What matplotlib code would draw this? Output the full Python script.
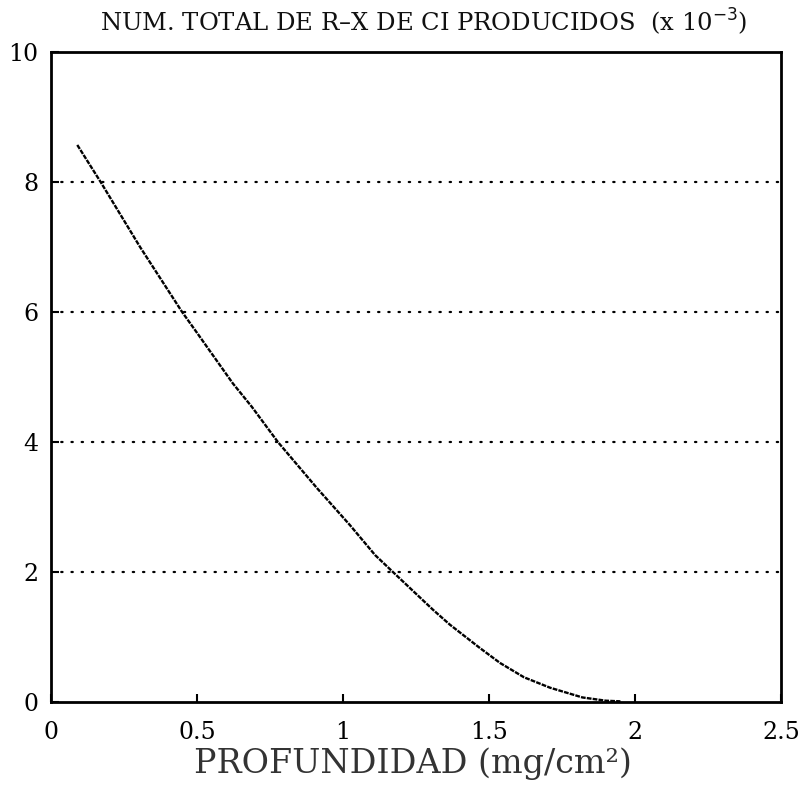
import numpy as np
import matplotlib.pyplot as plt

# profundidad (mg/cm2) vs numero total de rayos X producidos (x 10^-3)
prof = [0.09, 0.17, 0.305, 0.449, 0.50, 0.623, 0.688, 0.777, 0.911, 1.024,
        1.11, 1.171, 1.308, 1.366, 1.469, 1.538, 1.62, 1.709, 1.82, 1.90, 1.95]
num_rx = [8.57, 8.0, 7.0, 6.0, 5.68, 4.9, 4.54, 4.0, 3.29, 2.72,
          2.26, 2.0, 1.42, 1.19, 0.83, 0.6, 0.38, 0.22, 0.07, 0.02, 0.01]

xticks = [0, 0.5, 1, 1.5, 2, 2.5]
xlabels = ['0', '0.5', '1', '1.5', '2', '2.5']
yticks = [0, 2, 4, 6, 8, 10]
ylabels = ['0', '2', '4', '6', '8', '10']
grid_y = [2, 4, 6, 8]

plt.rcParams['font.family'] = ['DejaVu Serif', 'DejaVu Sans']

fig = plt.figure(figsize=(8.07, 7.91), dpi=100)
ax = fig.add_axes([51/807, 1-702/791, 730/807, 650/791])

for g in grid_y:
    ax.axhline(g, color='black', lw=1.6, linestyle=(0, (0.6, 4)),
               dash_capstyle='round', zorder=1)

ax.plot(prof, num_rx, color='black', lw=1.7, linestyle=(0, (2, 0.5)), zorder=3)

ax.set_xlim(0, 2.5)
ax.set_ylim(0, 10)
ax.set_xticks(xticks)
ax.set_xticklabels(xlabels)
ax.set_yticks(yticks)
ax.set_yticklabels(ylabels)
ax.tick_params(axis='both', direction='in', length=6, width=1.5,
               labelsize=17, colors='black')
ax.tick_params(axis='x', pad=14)
ax.tick_params(axis='y', pad=9)
for s in ax.spines.values():
    s.set_linewidth(2)
    s.set_color('black')

fig.text(100/807, 1-22/791, 'NUM. TOTAL DE R\u2013X DE CI PRODUCIDOS  (x 10$^{-3}$)',
         fontsize=17.5, va='center', ha='left', color='#111111')
fig.text(413/807, 1-764/791, 'PROFUNDIDAD (mg/cm\u00b2)', fontsize=24,
         va='center', ha='center', color='#333333', fontweight='light')

fig.savefig('out.png', dpi=100, facecolor='white')
